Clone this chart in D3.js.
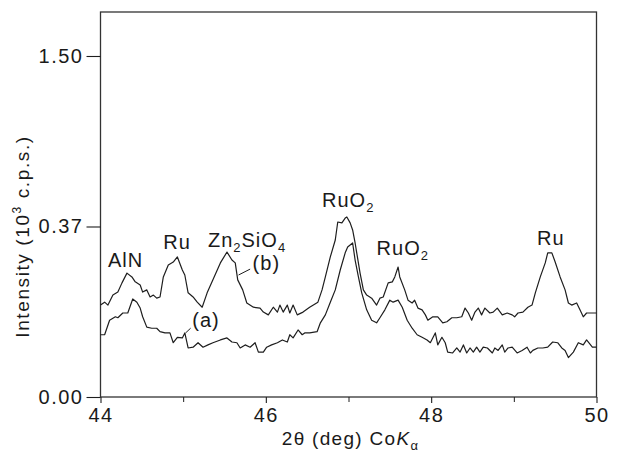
<!DOCTYPE html>
<html>
<head>
<meta charset="utf-8">
<script src="https://cdn.jsdelivr.net/npm/d3@7/dist/d3.min.js"></script>
<style>
  html, body { margin: 0; padding: 0; background: #fff; }
  svg text { font-family: "Liberation Sans", Arial, Helvetica, sans-serif; fill: #1a1a1a; }
</style>
</head>
<body>
<svg id="chart" width="618" height="454"></svg>
<script>
// ---------- data (2θ in degrees, intensity in 10^3 c.p.s.) ----------
const bTheta = [44.00,44.05,44.09,44.15,44.21,44.26,44.32,44.38,44.42,44.48,44.51,44.56,44.60,44.64,44.68,44.72,44.76,44.82,44.88,44.93,44.99,45.02,45.06,45.12,45.17,45.23,45.29,45.36,45.45,45.53,45.59,45.63,45.66,45.72,45.77,45.85,45.93,45.97,46.03,46.09,46.14,46.17,46.21,46.26,46.29,46.33,46.38,46.45,46.53,46.63,46.68,46.72,46.78,46.84,46.87,46.92,46.96,46.98,47.02,47.05,47.08,47.14,47.18,47.22,47.28,47.34,47.38,47.42,47.48,47.53,47.56,47.60,47.62,47.68,47.72,47.77,47.80,47.84,47.89,47.93,47.96,48.02,48.08,48.14,48.19,48.25,48.31,48.37,48.41,48.45,48.49,48.53,48.57,48.61,48.65,48.71,48.75,48.80,48.86,48.92,48.98,49.01,49.05,49.11,49.17,49.22,49.26,49.32,49.38,49.41,49.46,49.50,49.56,49.62,49.66,49.70,49.76,49.80,49.84,49.88,49.95,50.00];
const bIntensity = [0.109,0.116,0.109,0.134,0.142,0.168,0.198,0.186,0.171,0.162,0.142,0.148,0.129,0.134,0.126,0.129,0.186,0.225,0.235,0.253,0.208,0.192,0.140,0.129,0.116,0.104,0.140,0.177,0.232,0.271,0.242,0.232,0.177,0.148,0.114,0.104,0.102,0.093,0.087,0.104,0.093,0.109,0.093,0.109,0.091,0.109,0.087,0.093,0.104,0.116,0.148,0.186,0.253,0.318,0.395,0.391,0.413,0.418,0.391,0.360,0.306,0.198,0.148,0.134,0.126,0.109,0.126,0.129,0.168,0.171,0.186,0.218,0.186,0.148,0.121,0.114,0.121,0.102,0.098,0.087,0.076,0.083,0.083,0.071,0.073,0.081,0.081,0.083,0.102,0.091,0.076,0.093,0.102,0.087,0.102,0.091,0.093,0.102,0.087,0.091,0.087,0.083,0.091,0.093,0.104,0.109,0.140,0.186,0.232,0.268,0.268,0.235,0.186,0.148,0.114,0.109,0.114,0.098,0.083,0.091,0.091,0.091];

const aTheta = [44.00,44.05,44.11,44.18,44.21,44.27,44.33,44.39,44.44,44.48,44.51,44.56,44.62,44.68,44.72,44.78,44.84,44.88,44.93,44.99,45.02,45.06,45.12,45.18,45.24,45.30,45.36,45.45,45.53,45.59,45.65,45.69,45.75,45.81,45.87,45.91,45.97,46.01,46.07,46.14,46.20,46.26,46.29,46.33,46.39,46.44,46.47,46.53,46.62,46.66,46.72,46.78,46.84,46.90,46.96,46.99,47.05,47.08,47.12,47.16,47.22,47.28,47.34,47.38,47.44,47.50,47.54,47.60,47.65,47.71,47.77,47.83,47.89,47.95,47.99,48.05,48.08,48.13,48.17,48.20,48.26,48.31,48.35,48.39,48.43,48.47,48.51,48.55,48.59,48.63,48.68,48.74,48.77,48.81,48.86,48.89,48.93,48.98,49.04,49.10,49.16,49.20,49.23,49.29,49.35,49.41,49.47,49.53,49.58,49.62,49.66,49.72,49.78,49.84,49.88,49.95,50.00];
const aIntensity = [0.050,0.050,0.076,0.083,0.081,0.091,0.091,0.124,0.116,0.102,0.083,0.063,0.061,0.061,0.055,0.053,0.053,0.038,0.046,0.045,0.053,0.031,0.032,0.038,0.032,0.035,0.038,0.042,0.045,0.039,0.038,0.031,0.035,0.032,0.038,0.026,0.026,0.032,0.035,0.038,0.042,0.039,0.050,0.045,0.058,0.050,0.053,0.053,0.055,0.071,0.087,0.116,0.148,0.208,0.268,0.290,0.306,0.242,0.186,0.140,0.098,0.076,0.071,0.081,0.098,0.121,0.116,0.121,0.104,0.076,0.061,0.050,0.046,0.042,0.038,0.053,0.035,0.046,0.038,0.026,0.025,0.031,0.026,0.035,0.025,0.031,0.026,0.032,0.026,0.032,0.031,0.025,0.031,0.028,0.035,0.026,0.031,0.032,0.025,0.028,0.032,0.025,0.028,0.031,0.031,0.032,0.039,0.038,0.031,0.028,0.020,0.026,0.038,0.035,0.042,0.032,0.032];

const xMajorTicks = [44, 46, 48, 50];
const xMinorTicks = [45, 47, 49];
const yTickValues = [0, 0.375, 1.5];
const yTickLabels = ["0.00", "0.37", "1.50"];
const yMax = 1.912;

// ---------- layout ----------
const svg = d3.select("#chart");
const L = 100.5, R = 596.5, T = 12, B = 397;

const x = d3.scaleLinear().domain([44, 50]).range([L, R]);
const y = d3.scaleSqrt().domain([0, yMax]).range([B, T]);

const ink = "#1e1e1e";

// frame
svg.append("rect")
  .attr("x", L).attr("y", T).attr("width", R - L).attr("height", B - T)
  .attr("fill", "none").attr("stroke", "#333").attr("stroke-width", 1.3);

// x axis
const xAxis = d3.axisBottom(x).tickValues(xMajorTicks).tickSize(6).tickPadding(5).tickFormat(d3.format("d"));
const gx = svg.append("g").attr("transform", `translate(0,${B})`).call(xAxis);
gx.select(".domain").remove();
gx.selectAll(".tick line").attr("stroke", ink).attr("stroke-width", 1.1);
gx.selectAll(".tick text").attr("font-size", 20).attr("letter-spacing", "1.5px").attr("fill", ink)
  .attr("font-family", "Liberation Sans, Arial, sans-serif");

const gxm = svg.append("g").attr("transform", `translate(0,${B})`)
  .call(d3.axisBottom(x).tickValues(xMinorTicks).tickSize(5).tickFormat(""));
gxm.select(".domain").remove();
gxm.selectAll(".tick line").attr("stroke", ink).attr("stroke-width", 1);

// y axis
const yAxis = d3.axisLeft(y).tickValues(yTickValues).tickSize(14).tickPadding(3)
  .tickFormat((d, i) => yTickLabels[i]);
const gy = svg.append("g").attr("transform", `translate(${L},0)`).call(yAxis);
gy.select(".domain").remove();
gy.selectAll(".tick line").attr("stroke", ink).attr("stroke-width", 1.1);
gy.selectAll(".tick text").attr("font-size", 20).attr("letter-spacing", "1.5px").attr("fill", ink)
  .attr("font-family", "Liberation Sans, Arial, sans-serif");

// axis titles
const xt = svg.append("text").attr("x", (L + R) / 2 + 2).attr("y", 445)
  .attr("text-anchor", "middle").attr("font-size", 19).attr("letter-spacing", "1.3px");
xt.append("tspan").text("2θ (deg) Co");
xt.append("tspan").attr("font-style", "italic").text("K");
xt.append("tspan").attr("font-size", 13).attr("dy", 5).text("α");

const yt = svg.append("text")
  .attr("transform", `translate(29,${(T + B) / 2 + 32}) rotate(-90)`)
  .attr("text-anchor", "middle").attr("font-size", 19).attr("letter-spacing", "1.6px");
yt.append("tspan").text("Intensity (10");
yt.append("tspan").attr("font-size", 12).attr("dy", -8).text("3");
yt.append("tspan").attr("dy", 8).text(" c.p.s.)");

// curves
const line = d3.line().x(d => x(d[0])).y(d => y(d[1]));
const seriesB = bTheta.map((t, i) => [t, bIntensity[i]]);
const seriesA = aTheta.map((t, i) => [t, aIntensity[i]]);
[seriesA, seriesB].forEach(s => {
  svg.append("path").datum(s).attr("d", line)
    .attr("fill", "none").attr("stroke", ink).attr("stroke-width", 1.2)
    .attr("stroke-linejoin", "round");
});

// peak labels (anchored in data space)
function label(t, v, parts) {
  const tx = svg.append("text").attr("x", x(t)).attr("y", y(v))
    .attr("font-size", 20).attr("letter-spacing", "1px");
  parts.forEach(p => {
    const ts = tx.append("tspan").text(p[0]);
    if (p[1] === "sub") ts.attr("font-size", 13).attr("dy", 5);
    if (p[1] === "back") ts.attr("dy", -5);
  });
}
label(44.09, 0.218, [["AlN"]]);
label(44.76, 0.283, [["Ru"]]);
label(45.30, 0.290, [["Zn"], ["2", "sub"], ["SiO", "back"], ["4", "sub"]]);
label(45.84, 0.208, [["(b)"]]);
label(45.11, 0.063, [["(a)"]]);
label(46.68, 0.466, [["RuO"], ["2", "sub"]]);
label(47.34, 0.260, [["RuO"], ["2", "sub"]]);
label(49.28, 0.298, [["Ru"]]);

// leader lines
const leaders = [[[45.67, 0.192], [45.81, 0.211]], [[45.03, 0.053], [45.09, 0.061]]];
leaders.forEach(l => svg.append("path").datum(l).attr("d", line)
  .attr("stroke", ink).attr("stroke-width", 1).attr("fill", "none"));
</script>
</body>
</html>
